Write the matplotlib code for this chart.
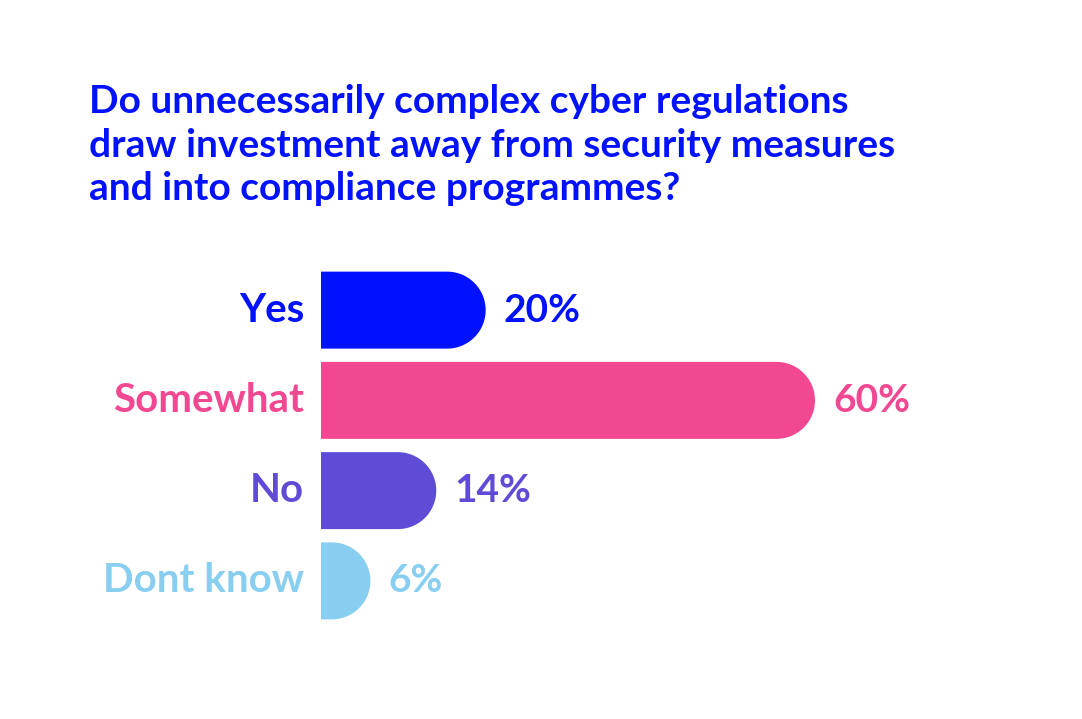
import numpy as np
import matplotlib.pyplot as plt
from matplotlib.patches import Polygon

categories = ["Yes", "Somewhat", "No", "Dont know"]
values = [20, 60, 14, 6]
colors = ["#0011ff", "#f24892", "#5e4bd6", "#88cef0"]
title = ("Do unnecessarily complex cyber regulations\n"
         "draw investment away from security measures\n"
         "and into compliance programmes?")

plt.rcParams['font.family'] = ['Lato', 'DejaVu Sans']

W, H = 1082, 719
fig = plt.figure(figsize=(W / 100, H / 100), dpi=100)
ax = fig.add_axes([321 / W, 93 / H, 741 / W, 361 / H])
ax.set_xlim(0, 90)
ax.set_ylim(len(categories) - 0.5, -0.5)
ax.axis('off')

bar_h = 0.853
# pixel sizes of one data unit, to keep the rounded end circular
px_x = 741 / 90
px_y = 361 / len(categories)
ry = bar_h / 2
rx = ry * px_y / px_x

theta = np.linspace(-np.pi / 2, np.pi / 2, 60)
for i, (cat, v, c) in enumerate(zip(categories, values, colors)):
    cx = v - rx
    arc = np.column_stack([cx + rx * np.cos(theta), i + ry * np.sin(theta)])
    pts = np.vstack([[0, i - ry], arc, [0, i + ry]])
    ax.add_patch(Polygon(pts, closed=True, facecolor=c, edgecolor='none'))
    ax.annotate(cat, xy=(0, i), xytext=(-12, 0), textcoords='offset points',
                ha='right', va='center', color=c, fontsize=29, fontweight='bold')
    ax.annotate(f"{v}%", xy=(v, i), xytext=(13, 0), textcoords='offset points',
                ha='left', va='center', color=c, fontsize=28, fontweight='bold')

fig.text(89 / W, 1 - 84 / H, title, ha='left', va='top', color="#0011ff",
         fontsize=28, fontweight='bold', linespacing=1.3)

fig.savefig("out.png", dpi=100, facecolor='white')
